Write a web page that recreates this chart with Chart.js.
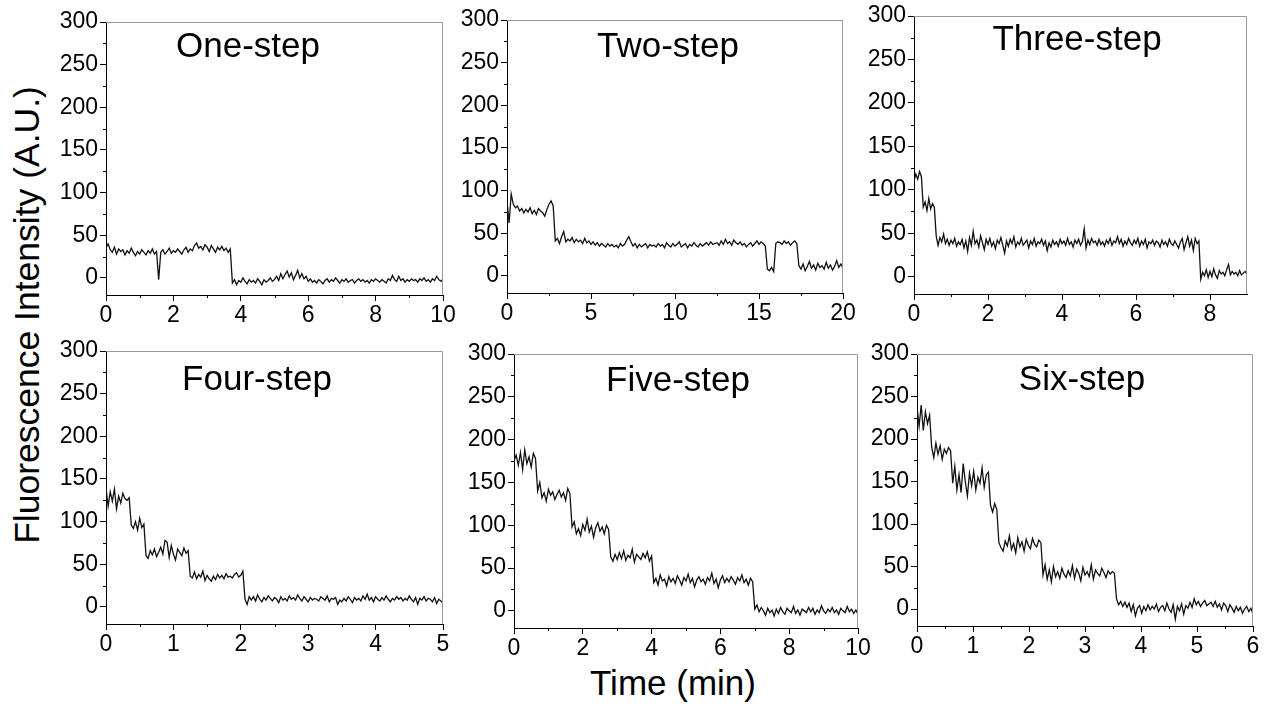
<!DOCTYPE html>
<html>
<head>
<meta charset="utf-8">
<title>Photobleaching steps</title>
<script src="https://cdn.jsdelivr.net/npm/chart.js@4.4.0/dist/chart.umd.min.js"></script>
<style>
  body {
    margin: 0;
    background: #fff;
    width: 1276px;
    height: 709px;
    position: relative;
    overflow: hidden;
    font-family: "Liberation Sans", Arial, sans-serif;
    color: #000;
  }
  canvas { position: absolute; }
  .title {
    position: absolute;
    font-size: 35px;
    line-height: 1;
    white-space: nowrap;
    transform: translateX(-50%);
  }
  .ytitle {
    position: absolute;
    left: 28px;
    top: 315px;
    font-size: 35.5px;
    line-height: 1;
    white-space: nowrap;
    transform: translate(-50%, -50%) rotate(-90deg);
  }
  .xtitle {
    position: absolute;
    left: 673px;
    top: 665px;
    font-size: 35px;
    line-height: 1;
    white-space: nowrap;
    transform: translateX(-50%);
  }
</style>
</head>
<body>

<canvas id="oneStep"></canvas>
<canvas id="twoStep"></canvas>
<canvas id="threeStep"></canvas>
<canvas id="fourStep"></canvas>
<canvas id="fiveStep"></canvas>
<canvas id="sixStep"></canvas>

<div class="title" style="left:248px; top:27px;">One-step</div>
<div class="title" style="left:668px; top:27px;">Two-step</div>
<div class="title" style="left:1077px; top:20px;">Three-step</div>
<div class="title" style="left:257px; top:360px;">Four-step</div>
<div class="title" style="left:678px; top:361px;">Five-step</div>
<div class="title" style="left:1082px; top:360px;">Six-step</div>

<div class="ytitle">Fluorescence Intensity (A.U.)</div>
<div class="xtitle">Time (min)</div>

<script>
// intensity traces, one value per sampling interval (min)
const oneStepDt = 0.0625;
const oneStepValues = [
  35,40,33,30,36,28,34,31,33,27,
  32,29,35,30,26,31,28,33,30,27,
  32,29,34,28,31,-2,30,33,28,31,
  35,29,32,30,34,31,28,33,36,30,
  34,32,38,41,35,37,33,39,36,31,
  38,34,30,36,33,37,32,35,30,34,
  -6,-2,-8,-3,-5,0,-4,-7,-2,-5,
  -3,-6,-1,-4,-8,-2,-5,-3,0,-4,
  -2,2,-3,5,-1,4,8,1,6,-2,
  3,9,0,5,-1,2,-4,-1,-5,-3,
  -6,-2,-4,-7,-3,-1,-5,-2,-4,0,
  -3,-6,-2,-4,-1,-5,-3,-2,-6,-3,
  -1,-4,-2,-5,-3,-6,-2,-4,-1,-3,
  -5,-2,-4,-6,-1,-3,3,-2,-4,2,
  -3,-1,-5,-2,-4,-1,-3,-2,-5,-1,
  -3,0,-4,-2,-5,-1,-3,2,-2,-4,
  -1
];

const twoStepDt = 0.125;
const twoStepValues = [
  88,62,96,84,80,82,76,79,74,78,
  75,80,73,77,72,79,76,74,70,78,
  84,88,82,41,44,38,46,52,40,43,
  41,45,39,43,40,42,38,44,39,41,
  37,40,36,39,35,38,36,34,38,35,
  37,34,36,33,38,35,37,42,46,40,
  35,38,33,37,34,36,38,33,37,35,
  36,34,38,35,37,33,39,36,34,38,
  35,37,40,34,36,38,33,37,35,39,
  36,34,38,35,37,39,36,40,37,38,
  39,36,41,37,43,38,40,36,42,39,
  37,40,36,38,34,37,39,35,38,41,
  37,40,38,35,8,6,10,5,38,40,
  39,37,41,38,40,36,39,41,38,12,
  8,14,6,11,17,9,13,7,15,10,
  12,8,16,9,13,7,11,18,10,14,
  9
];

const threeStepDt = 0.05;
const threeStepValues = [
  110,118,112,121,115,80,86,76,90,78,
  84,80,47,36,45,40,49,38,43,36,
  42,38,44,35,40,37,43,33,41,29,
  45,36,52,38,42,34,47,39,31,43,
  37,44,35,40,32,42,38,45,36,27,
  41,35,43,38,46,34,40,37,44,36,
  39,42,33,41,37,44,35,40,38,43,
  36,41,30,39,34,42,37,40,35,43,
  38,41,36,44,37,40,34,42,38,43,
  36,40,55,33,42,37,44,39,41,36,
  43,37,40,35,42,38,44,36,41,39,
  46,38,43,35,41,37,44,39,36,42,
  38,44,35,41,37,43,33,40,38,42,
  36,41,39,34,42,37,40,35,43,38,
  36,41,37,33,40,44,31,39,46,35,
  42,30,44,38,41,-3,5,1,8,-1,
  6,0,9,2,-2,7,3,5,1,8,
  14,2,6,3,5,1,7,2,4,6,
  3
];

const fourStepDt = 0.03125;
const fourStepValues = [
  140,118,135,124,138,115,130,122,133,127,
  125,128,96,92,100,90,104,93,97,60,
  57,66,61,68,59,64,70,62,78,76,
  58,72,62,55,68,64,60,69,63,66,
  36,34,41,33,38,35,42,31,37,33,
  30,36,32,38,34,37,33,39,35,36,
  34,38,40,35,37,42,9,3,12,8,
  12,7,14,9,6,11,8,13,10,7,
  11,9,5,12,8,10,7,13,9,11,
  8,14,10,7,12,9,6,11,8,10,
  9,7,12,10,8,13,6,10,9,11,
  3,8,6,10,7,12,9,5,11,8,
  10,7,13,9,15,8,11,6,12,9,
  7,11,8,13,9,6,10,8,12,9,
  11,7,10,8,13,9,6,11,3,10,
  8,12,7,10,9,6,11,4,9,7,
  5
];

const fiveStepDt = 0.0625;
const fiveStepValues = [
  175,182,170,185,165,188,172,180,168,184,
  178,140,150,132,138,128,142,135,139,130,
  136,141,133,138,129,143,137,98,104,90,
  96,88,101,94,107,92,99,86,97,103,
  93,98,90,100,95,63,58,66,60,68,
  61,70,59,65,62,72,57,66,63,60,
  67,62,69,58,64,33,38,30,42,35,
  37,29,40,34,38,32,41,36,30,39,
  35,43,33,38,28,36,40,34,37,31,
  39,35,44,32,37,27,36,41,33,38,
  34,40,36,31,39,35,42,33,37,30,
  38,34,2,7,-1,4,0,-5,3,-2,
  1,-6,2,-3,4,-1,-4,3,0,-2,
  5,-3,1,-5,2,0,-2,4,-1,3,
  -4,1,-2,6,0,-3,2,-1,4,-2,
  1,-4,3,0,-2,5,-1,2,-3,1,
  -4
];

const sixStepDt = 0.0375;
const sixStepValues = [
  238,215,240,210,232,218,228,190,178,195,
  182,192,176,188,183,190,186,148,168,140,
  158,137,171,150,133,160,145,162,140,155,
  148,166,143,158,161,122,114,124,117,78,
  72,68,80,74,86,70,77,66,84,73,
  79,68,82,75,71,83,76,73,81,78,
  40,52,35,46,32,50,38,44,36,48,
  41,37,45,39,51,36,47,42,33,49,
  40,44,38,52,35,46,42,39,48,43,
  37,45,41,44,42,12,5,9,3,8,
  2,7,-3,5,-8,1,4,-5,3,-2,
  5,-1,3,0,6,-3,2,4,-2,7,
  0,-4,5,-12,3,-2,6,-6,4,1,
  8,2,12,5,9,3,7,10,4,6,
  8,3,9,2,6,-1,7,4,-3,5,
  1,-4,3,-2,2,-5,0,3,-3,1,
  -6
];

// axis ticks
const yTicks = [0, 50, 100, 150, 200, 250, 300];
const yMinorTicks = [25, 75, 125, 175, 225, 275];
const xTicksTen = [0, 2, 4, 6, 8, 10];
const xMinorTen = [1, 3, 5, 7, 9];
const xTicksTwenty = [0, 5, 10, 15, 20];
const xMinorTwenty = [2.5, 7.5, 12.5, 17.5];
const xTicksNine = [0, 2, 4, 6, 8];
const xMinorNine = [1, 3, 5, 7];
const xTicksFive = [0, 1, 2, 3, 4, 5];
const xMinorFive = [0.5, 1.5, 2.5, 3.5, 4.5];
const xTicksSix = [0, 1, 2, 3, 4, 5, 6];
const xMinorSix = [0.5, 1.5, 2.5, 3.5, 4.5, 5.5];

const FONT = '"Liberation Sans", Arial, sans-serif';

// where each plot box sits on the page
const panels = [
  {id: 'oneStep',   dt: oneStepDt,   values: oneStepValues,   xMax: 10, xTicks: xTicksTen,    xMinor: xMinorTen,    box: {left: 106, top: 22,  right: 443,  bottom: 295}},
  {id: 'twoStep',   dt: twoStepDt,   values: twoStepValues,   xMax: 20, xTicks: xTicksTwenty, xMinor: xMinorTwenty, box: {left: 507, top: 20,  right: 843,  bottom: 293}},
  {id: 'threeStep', dt: threeStepDt, values: threeStepValues, xMax: 9,  xTicks: xTicksNine,   xMinor: xMinorNine,   box: {left: 914, top: 16,  right: 1247, bottom: 294}},
  {id: 'fourStep',  dt: fourStepDt,  values: fourStepValues,  xMax: 5,  xTicks: xTicksFive,   xMinor: xMinorFive,   box: {left: 106, top: 351, right: 443,  bottom: 624}},
  {id: 'fiveStep',  dt: fiveStepDt,  values: fiveStepValues,  xMax: 10, xTicks: xTicksTen,    xMinor: xMinorTen,    box: {left: 514, top: 354, right: 858,  bottom: 628}},
  {id: 'sixStep',   dt: sixStepDt,   values: sixStepValues,   xMax: 6,  xTicks: xTicksSix,    xMinor: xMinorSix,    box: {left: 917, top: 354, right: 1253, bottom: 626}}
];

// gray top/right frame + small minor ticks
let framePlugin = (panel) => ({
  id: 'frame',
  afterDraw(chart) {
    const {ctx, chartArea} = chart;
    const xs = chart.scales.x;
    const ys = chart.scales.y;
    ctx.save();
    ctx.strokeStyle = '#9a9a9a';
    ctx.lineWidth = 1;
    ctx.beginPath();
    ctx.moveTo(chartArea.left, chartArea.top + 0.5);
    ctx.lineTo(chartArea.right - 0.5, chartArea.top + 0.5);
    ctx.lineTo(chartArea.right - 0.5, chartArea.bottom);
    ctx.stroke();

    ctx.strokeStyle = '#000';
    ctx.beginPath();
    panel.xMinor.forEach(v => {
      const px = Math.round(xs.getPixelForValue(v)) + 0.5;
      ctx.moveTo(px, chartArea.bottom);
      ctx.lineTo(px, chartArea.bottom + 3);
    });
    yMinorTicks.forEach(v => {
      const py = Math.round(ys.getPixelForValue(v)) + 0.5;
      ctx.moveTo(chartArea.left - 3, py);
      ctx.lineTo(chartArea.left, py);
    });
    ctx.stroke();
    ctx.restore();
  }
});

function makePanel(panel) {
  const padL = 55, padT = 14, padR = 18, padB = 34;
  const box = panel.box;
  const canvas = document.getElementById(panel.id);
  canvas.width = box.right - box.left + padL + padR;
  canvas.height = box.bottom - box.top + padT + padB;
  canvas.style.left = (box.left - padL) + 'px';
  canvas.style.top = (box.top - padT) + 'px';

  const points = panel.values.map((v, i) => ({x: i * panel.dt, y: v}));

  return new Chart(canvas.getContext('2d'), {
    type: 'line',
    data: {
      datasets: [{
        data: points,
        borderColor: '#111',
        borderWidth: 1.3,
        pointRadius: 0,
        tension: 0,
        fill: false
      }]
    },
    options: {
      responsive: false,
      animation: false,
      devicePixelRatio: 1,
      layout: {padding: {left: 0, top: padT, right: padR, bottom: 0}},
      plugins: {
        legend: {display: false},
        tooltip: {enabled: false}
      },
      scales: {
        x: {
          type: 'linear',
          min: 0,
          max: panel.xMax,
          afterBuildTicks: s => { s.ticks = panel.xTicks.map(v => ({value: v})); },
          afterFit: s => { s.height = padB; s.paddingLeft = 0; s.paddingRight = 0; },
          grid: {drawOnChartArea: false, tickLength: 6, tickColor: '#000', tickWidth: 1},
          border: {color: '#000', width: 1},
          ticks: {color: '#000', font: {family: FONT, size: 23}, padding: 1, maxRotation: 0, autoSkip: false}
        },
        y: {
          type: 'linear',
          min: -20,
          max: 300,
          afterBuildTicks: s => { s.ticks = yTicks.map(v => ({value: v})); },
          afterFit: s => { s.width = padL; s.paddingTop = 0; s.paddingBottom = 0; },
          grid: {drawOnChartArea: false, tickLength: 6, tickColor: '#000', tickWidth: 1},
          border: {color: '#000', width: 1},
          ticks: {color: '#000', font: {family: FONT, size: 23}, padding: 2, autoSkip: false}
        }
      }
    },
    plugins: [framePlugin(panel)]
  });
}

panels.forEach(makePanel);
</script>
</body>
</html>
